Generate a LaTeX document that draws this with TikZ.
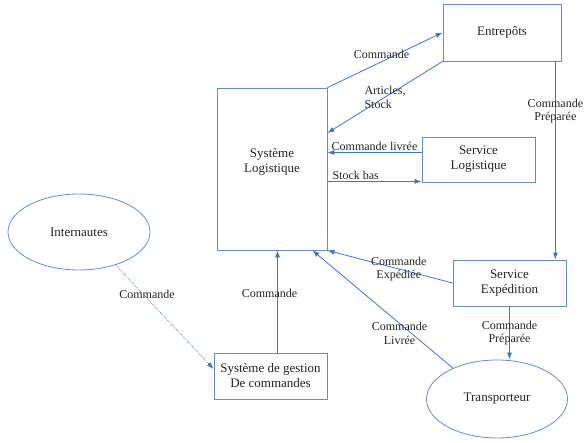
\documentclass[tikz,border=0pt]{standalone}
\usepackage{fontspec}
\setmainfont{Liberation Serif}
\usetikzlibrary{arrows.meta,shapes.geometric}
\definecolor{boxblue}{RGB}{101,140,196}
\definecolor{flowblue}{RGB}{68,114,196}
\definecolor{textgrey}{RGB}{35,35,35}
\tikzset{
  box/.style={draw=boxblue, line width=0.8pt, align=center, inner sep=0pt, text=textgrey, font=\fontsize{13}{15}\selectfont},
  blob/.style={box, ellipse},
  flow/.style={draw=flowblue, line width=0.8pt, -{Latex[length=7pt,width=5pt]}},
  lab/.style={text=textgrey, inner sep=1.5pt, font=\fontsize{12}{13.5}\selectfont}
}
\begin{document}
\begin{tikzpicture}[x=1pt,y=-1pt]
  \useasboundingbox (0,0) rectangle (585,443);

  \begin{scope}[every node/.style={box}]
    \node[minimum width=110, minimum height=162,
      label={[align=center, text=textgrey, font=\fontsize{13}{15}\selectfont, yshift=7]center:{Système\\Logistique}}] (sl) at (272,169) {};
    \node[minimum width=118, minimum height=57] (ent) at (502,32.5) {Entrepôts};
    \node[minimum width=113, minimum height=45] (slog) at (478.5,159.5) {Service\\Logistique};
    \node[minimum width=113, minimum height=46] (se) at (509.5,283) {Service\\Expédition};
    \node[minimum width=113, minimum height=46] (sdg) at (270.5,376) {Système de gestion\\De commandes};
    \node[blob, minimum width=142, minimum height=76] (int) at (79,232) {Internautes};
    \node[blob, minimum width=141, minimum height=78] (tr) at (497,399) {Transporteur};
  \end{scope}

  \coordinate (art) at ([yshift=36]sl.east);
  \coordinate (liv) at ([yshift=7]slog.west);
  \coordinate (bas) at ([yshift=1]slog.south west);
  \coordinate (prep) at ([xshift=-6]ent.south east);
  \coordinate (trliv) at ([xshift=-15]sl.south east);
  \coordinate (cmd) at ([xshift=7]sdg.north);
  \coordinate (web) at ([yshift=7]sdg.west);

  \path (sl.north east) edge[flow] node[lab, pos=.47, yshift=7] {Commande} (ent.west);
  \path (ent.south west) edge[flow] node[lab, align=left] {Articles,\\Stock} (art);
  \path (liv) edge[flow] node[lab, above] {Commande livrée} (liv -| sl.east);
  \path (bas -| sl.east) edge[flow] node[lab, pos=.3, above] {Stock bas} (bas);
  \path (prep) edge[flow] node[lab, pos=.25, align=center] {Commande\\Préparée} (prep |- se.north);
  \path (se.west) edge[flow] node[lab, pos=.43, align=center] {Commande\\Expédiée} (sl.south east);
  \path (tr.145) edge[flow] node[lab, pos=.38, yshift=-10, align=center] {Commande\\Livrée} (trliv);
  \path (se.south) edge[flow] node[lab, align=center] {Commande\\Préparée} (se.south |- tr.north);
  \path (cmd) edge[flow] node[lab, pos=.58, xshift=-8] {Commande} (cmd |- sl.south);
  \path (int.-42) edge[flow, densely dotted, line width=0.6pt] node[lab, pos=.28, xshift=4] {Commande} (web);
\end{tikzpicture}
\end{document}
